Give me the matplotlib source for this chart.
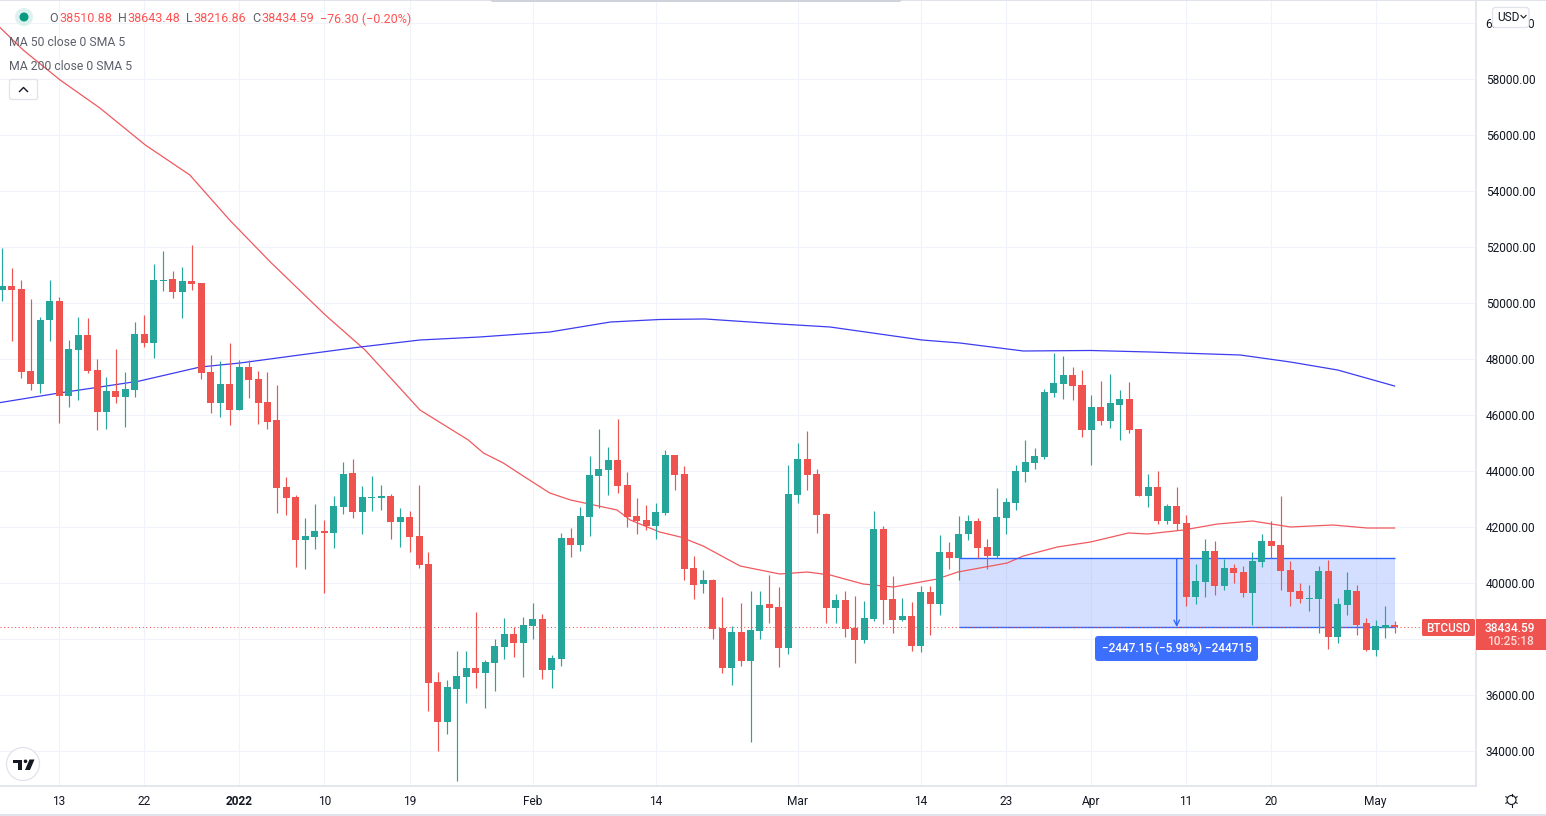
import matplotlib
matplotlib.use('Agg')
import matplotlib.pyplot as plt
import numpy as np
from matplotlib.patches import Circle, FancyBboxPatch, Polygon, Rectangle

plt.rcParams['font.family'] = ['Roboto', 'DejaVu Sans']

# daily candles, first one is 7 Dec 2021
opens = [50476, 50619, 50512, 47583, 47119, 49405, 50083, 46690, 48333, 48869,
         47619, 46119, 46869, 46655, 46905, 48905, 48583, 50798, 50869, 50405,
         50798, 50726, 47548, 46440, 47119, 46190, 47726, 47297, 46476, 45833,
         43441, 43083, 41548, 41655, 41869, 41798, 42726, 43940, 42548, 43048,
         43048, 43119, 42190, 42369, 41690, 40690, 36476, 35048, 36226, 36655,
         36976, 36798, 37155, 37726, 38190, 37869, 38476, 38726, 36905, 37298,
         41619, 41369, 42369, 43833, 44048, 44405, 43512, 42405, 42262, 42048,
         42512, 44583, 43905, 40548, 39976, 40119, 38405, 36976, 38262, 37226,
         38298, 39262, 39155, 37690, 43155, 44441, 43905, 42476, 39119, 39405,
         38405, 37976, 38726, 41940, 39440, 38690, 38833, 37762, 39690, 39262,
         41119, 40905, 41762, 42226, 41298, 40976, 42333, 42869, 43976, 44298,
         44512, 46798, 47119, 47440, 47083, 45476, 46298, 45798, 46369, 46583,
         45500, 43107, 43428, 42214, 42750, 42143, 39500, 40036, 41143, 39893,
         40535, 40393, 39643, 40750, 41500, 41357, 40464, 39714, 39428, 39428,
         40428, 38071, 39214, 39714, 38571, 37607, 38428, 38510.88]
highs = [51976, 51262, 50833, 50155, 49512, 50833, 50226, 48690, 49512, 49476,
         48012, 47369, 48369, 47548, 49333, 49583, 51405, 51869, 51155, 51298,
         52083, 50726, 48155, 47940, 48583, 47976, 47976, 47583, 47548, 47083,
         43797, 43155, 42333, 42833, 42262, 43119, 44333, 44440, 43476, 43833,
         43512, 43190, 42690, 42583, 43512, 41119, 36833, 36547, 37583, 37583,
         38976, 37262, 38012, 38762, 38440, 38798, 39298, 38905, 37440, 41798,
         41976, 42726, 44548, 45512, 44869, 45869, 43976, 43048, 42798, 42869,
         44762, 44583, 44190, 40976, 40476, 40155, 39512, 38476, 39298, 39726,
         39726, 40298, 39869, 44226, 45012, 45441, 44083, 42512, 39619, 39726,
         39548, 39369, 42583, 42047, 40262, 39476, 39333, 39905, 39905, 41726,
         41476, 42405, 42440, 42333, 41583, 43405, 43048, 44226, 45119, 44833,
         46940, 48226, 48119, 47726, 47619, 46726, 47226, 47476, 46905, 47190,
         45500, 43893, 44000, 42821, 43428, 42428, 40678, 41571, 41500, 40857,
         40678, 40607, 41107, 41750, 42214, 43107, 40786, 40000, 39928, 40607,
         40821, 39464, 40393, 39928, 38785, 38678, 39178, 38643.48]
lows = [50083, 48655, 47333, 46905, 46797, 48655, 45726, 46297, 46547, 47512,
        45476, 45512, 46440, 45583, 46655, 48440, 48047, 50440, 50190, 49476,
        50476, 47297, 46083, 45940, 45655, 46190, 46619, 45690, 45512, 42512,
        42440, 40583, 40512, 41226, 39655, 41262, 42476, 42333, 41762, 42583,
        42619, 41583, 41298, 41119, 40547, 35440, 34012, 34619, 32940, 35726,
        36262, 35547, 36155, 37298, 37369, 36655, 38012, 36583, 36262, 37048,
        40940, 41155, 41690, 42690, 43155, 43226, 42012, 41762, 41905, 41583,
        42440, 43333, 40119, 39440, 39655, 38012, 36798, 36369, 37048, 34333,
        38012, 38583, 37012, 37476, 42869, 43333, 41798, 38583, 38583, 38083,
        37155, 37869, 38655, 38547, 38226, 38655, 37583, 37548, 38155, 38869,
        40512, 40119, 41548, 40905, 40512, 40905, 41762, 42619, 43619, 44083,
        44440, 46655, 46583, 46548, 45226, 44226, 45655, 45548, 45119, 45369,
        43107, 42714, 42107, 42107, 41893, 39178, 39250, 39535, 39571, 39750,
        40000, 39535, 38535, 40571, 40893, 39750, 39178, 39286, 39000, 38214,
        37678, 37857, 38857, 38143, 37571, 37393, 38036, 38216.86]
closes = [50619, 50476, 47548, 47119, 49405, 50083, 46690, 48369, 48869, 47583,
          46119, 46869, 46655, 46940, 48905, 48583, 50833, 50833, 50405, 50798,
          50690, 47512, 46440, 47119, 46190, 47726, 47262, 46440, 45762, 43405,
          43047, 41548, 41690, 41869, 41798, 42762, 43905, 42548, 43083, 43083,
          43119, 42190, 42369, 41655, 40655, 36440, 35048, 36297, 36690, 36976,
          36798, 37190, 37762, 38190, 37869, 38512, 38726, 36905, 37333, 41619,
          41369, 42405, 43869, 44083, 44405, 43476, 42369, 42226, 42048, 42548,
          44583, 43869, 40512, 39940, 40119, 38369, 36976, 38262, 37226, 38333,
          39226, 39119, 37690, 43190, 44441, 43869, 42441, 39119, 39405, 38369,
          37976, 38762, 41940, 39405, 38690, 38833, 37762, 39690, 39262, 41119,
          40905, 41762, 42226, 41262, 40976, 42369, 42905, 44012, 44333, 44548,
          46833, 47155, 47440, 47048, 45476, 46298, 45798, 46440, 46583, 45476,
          43107, 43428, 42214, 42750, 42107, 39500, 40071, 41143, 39893, 40535,
          40357, 39643, 40786, 41500, 41321, 40428, 39678, 39428, 39464, 40428,
          38071, 39250, 39750, 38535, 37607, 38464, 38511, 38434.59]

# moving averages, read at these candle numbers
ma50_days = [-0.3, 2.2, 6.1, 10.3, 15.1, 19.8, 24, 28.3, 34.1, 38.3, 44.1, 49.2, 50.8,
             52.9, 55, 57.8, 60, 64.9, 66.3, 69.4, 71.6, 74, 77.9, 82.1, 85, 87.4,
             90.9, 94.1, 98.7, 100.9, 106.1, 107.8, 111.4, 114.9, 118.9, 120.9,
             124.7, 128.3, 132, 136, 140.5, 144.1, 147]
ma50 = [59872, 59051, 57980, 56980, 55658, 54587, 52980, 51480, 49588, 48338, 46195,
        45124, 44660, 44302, 43838, 43231, 42981, 42624, 42267, 41838, 41660, 41338,
        40624, 40339, 40410, 40303, 39981, 39874, 40160, 40410, 40731, 40981, 41303,
        41481, 41803, 41767, 41910, 42124, 42231, 42017, 42088, 41981, 41981]
ma200_days = [-0.3, 6, 10.3, 14.5, 20.9, 25.1, 31.4, 37.8, 44.1, 50.4, 57.8, 64.2, 69.4,
              74.2, 82.1, 87.4, 97.1, 101.1, 107.8, 114.9, 121.2, 130.7, 136, 141, 147]
ma200 = [46456, 46802, 47016, 47231, 47731, 47873, 48159, 48445, 48695, 48802, 48980,
         49337, 49427, 49445, 49266, 49159, 48695, 48588, 48302, 48320, 48266, 48159,
         47909, 47623, 47052]

price_ticks = list(range(34000, 62000, 2000))
tick_days = [6, 15, 25, 34, 43, 56, 69, 84, 97, 106, 115, 125, 134, 145]
tick_labels = ['13', '22', '2022', '10', '19', 'Feb', '14', 'Mar', '14', '23', 'Apr', '11', '20', 'May']

RED = '#EF5350'
GREEN = '#26A69A'
BLUE = '#2962FF'
GRID = '#F0F3FA'
BORDER = '#E0E3EB'
TEXT = '#131722'

W, H = 1546, 816
fig = plt.figure(figsize=(W / 100, H / 100), dpi=100)
ax = fig.add_axes([0, 1 - 786 / H, 1476 / W, 786 / H])
ax.set_xlim(-0.243, 155.6)
ax.set_ylim(32768, 60836)

days = np.arange(len(opens))
opens = np.array(opens)
closes = np.array(closes)
colors = [GREEN if c >= o else RED for o, c in zip(opens, closes)]

ax.plot(ma50_days, ma50, color='#F0595F', lw=0.9, zorder=3)
ax.plot(ma200_days, ma200, color='#3C3CF0', lw=0.9, zorder=3)

# measure tool, sits under the candles
measure_top, measure_bottom = 40893, 38446
ax.add_patch(Rectangle((101, measure_bottom), 46, measure_top - measure_bottom,
                       facecolor=BLUE, alpha=0.2, lw=0, zorder=2))
ax.hlines([measure_top, measure_bottom], 101, 147, color=BLUE, lw=1.0, zorder=3)
ax.annotate('', xy=(124, measure_bottom), xytext=(124, measure_top), zorder=3,
            arrowprops=dict(arrowstyle='->', color=BLUE, lw=0.9, shrinkA=0, shrinkB=0))
ax.axhline(closes[-1], color=RED, lw=0.75, ls=(0, (1, 2.5)), zorder=3)

ax.vlines(days, lows, highs, colors=colors, lw=0.85, zorder=4)
ax.bar(days, np.abs(closes - opens), bottom=np.minimum(opens, closes), width=0.74,
       color=colors, lw=0, zorder=5)

ax.set_yticks(price_ticks, ['%.2f' % p for p in price_ticks])
ax.set_xticks(tick_days, tick_labels)
ax.yaxis.tick_right()
ax.tick_params(axis='y', length=0, pad=7, labelsize=8.6, labelcolor=TEXT)
ax.tick_params(axis='x', length=0, pad=6.2, labelsize=8.6, labelcolor=TEXT)
for lab in ax.get_xticklabels():
    if lab.get_text() == '2022':
        lab.set_fontweight('bold')
ax.grid(True, color=GRID, lw=0.8)
ax.set_axisbelow(True)
for side in ['top', 'left']:
    ax.spines[side].set_visible(False)
for side in ['right', 'bottom']:
    ax.spines[side].set_color(BORDER)
    ax.spines[side].set_linewidth(1.2)

# everything around the chart, in pixels
ov = fig.add_axes([0, 0, 1, 1])
ov.set_xlim(0, W)
ov.set_ylim(H, 0)
ov.axis('off')
ov.patch.set_alpha(0)

ov.add_patch(Rectangle((0, 0), W, 1.2, color=BORDER, lw=0))
ov.add_patch(Rectangle((0, 814), W, 2, color=BORDER, lw=0))
ov.add_patch(FancyBboxPatch((490, -6), 412, 8, boxstyle='round,pad=0,rounding_size=3', color='#CFD2DA', lw=0))

ov.add_patch(Circle((24, 17), 9, color='#DDF1EE', lw=0))
ov.add_patch(Circle((24, 17), 4.5, color='#089981', lw=0))

GREY = '#5D606B'
LRED = '#FF5252'
legend = [(49, 'O', GREY), (59, '38510.88', LRED), (118, 'H', GREY), (127, '38643.48', LRED),
          (186, 'L', GREY), (193, '38216.86', LRED), (252, 'C', GREY), (261, '38434.59', LRED),
          (320, '\u221276.30 (\u22120.20%)', LRED)]
for x, s, c in legend:
    ov.text(x, 19, s, color=c, fontsize=9, va='center', ha='left')
ov.text(9, 42, 'MA 50 close 0 SMA 5', color=GREY, fontsize=8.8, va='center')
ov.text(9, 66, 'MA 200 close 0 SMA 5', color=GREY, fontsize=8.8, va='center')

ov.add_patch(FancyBboxPatch((9.5, 79.5), 28, 20, boxstyle='round,pad=0,rounding_size=2',
                            fc='white', ec=BORDER, lw=0.9))
ov.plot([19.5, 23.5, 27.5], [91.5, 87.5, 91.5], color=TEXT, lw=1.0)

# USD box covers the top price label
ov.add_patch(FancyBboxPatch((1492.5, 7.5), 36.5, 20, boxstyle='round,pad=0,rounding_size=3',
                            fc='white', ec=BORDER, lw=0.9, zorder=3))
ov.text(1497, 17.5, 'USD', color=TEXT, fontsize=8.6, va='center', zorder=4)
ov.plot([1521, 1523.5, 1526], [15.5, 18, 15.5], color=TEXT, lw=0.8, zorder=4)

# last price labels
ov.add_patch(FancyBboxPatch((1422, 619), 53, 17, boxstyle='round,pad=0,rounding_size=1.5', color=RED, lw=0, zorder=3))
ov.text(1448.5, 628, 'BTCUSD', color='white', fontsize=8.4, fontweight='medium', ha='center', va='center', zorder=4)
ov.add_patch(Rectangle((1476, 619), 70, 31, color=RED, lw=0, zorder=3))
ov.text(1510, 628, '38434.59', color='white', fontsize=8.6, fontweight='medium', ha='center', va='center', zorder=4)
ov.text(1510, 641.5, '10:25:18', color='#FBDDDD', fontsize=8.6, fontweight='medium', ha='center', va='center', zorder=4)

# measure label
ov.add_patch(FancyBboxPatch((1095, 636), 163, 25, boxstyle='round,pad=0,rounding_size=3', color='#3D6FFF', lw=0, zorder=3))
ov.text(1176.5, 648, '\u22122447.15 (\u22125.98%) \u2212244715', color='white', fontsize=8.5, fontweight='medium',
        ha='center', va='center', zorder=4)

# logo
ov.add_patch(Circle((23, 764), 16.5, fc='white', ec=BORDER, lw=0.9))
ov.add_patch(Polygon([(13, 759.5), (22, 759.5), (22, 770), (17.5, 770), (17.5, 763), (13, 763)], color=TEXT, lw=0))
ov.add_patch(Circle((25.5, 761.3), 1.8, color=TEXT, lw=0))
ov.add_patch(Polygon([(29.5, 759.5), (34.5, 759.5), (30, 770), (25, 770)], color=TEXT, lw=0))

# settings gear
ov.add_patch(Circle((1511.5, 800), 4.5, fc='white', ec=TEXT, lw=0.8))
for a in np.arange(0, 2 * np.pi, np.pi / 3) + np.pi / 6:
    ov.plot([1511.5 + 4.5 * np.cos(a), 1511.5 + 6.5 * np.cos(a)],
            [800 + 4.5 * np.sin(a), 800 + 6.5 * np.sin(a)], color=TEXT, lw=0.8)

fig.savefig('out.png', dpi=100, facecolor='white')
